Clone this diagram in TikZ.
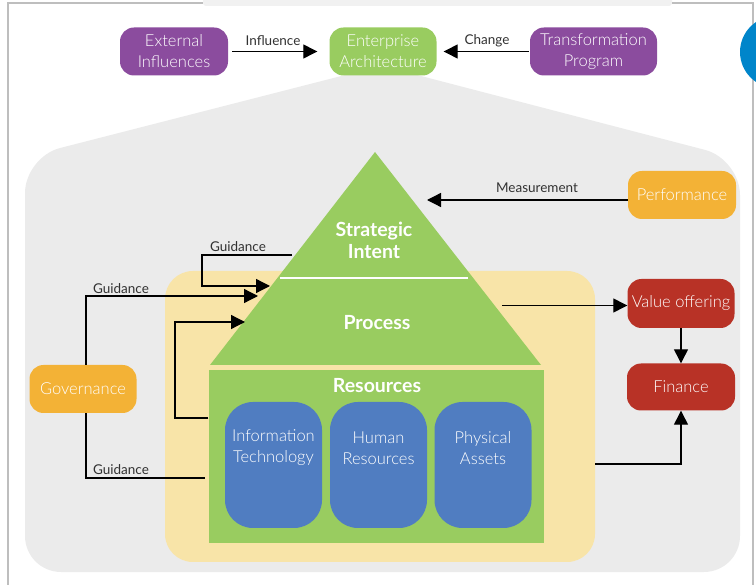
\documentclass[tikz,border=0pt]{standalone}
\usepackage{fontspec}
\setmainfont{Lato}[UprightFont=* Light, BoldFont=* Bold]
\newfontfamily\labelfont{Lato}
\usetikzlibrary{arrows.meta,positioning}

\definecolor{framegray}{RGB}{190,190,190}
\definecolor{housegray}{RGB}{235,235,235}
\definecolor{softyellow}{RGB}{248,228,168}
\definecolor{leafgreen}{RGB}{153,204,96}
\definecolor{plum}{RGB}{139,76,158}
\definecolor{amber}{RGB}{243,178,54}
\definecolor{brick}{RGB}{184,50,38}
\definecolor{resblue}{RGB}{80,125,193}
\definecolor{badgeblue}{RGB}{0,133,202}
\definecolor{labelgray}{RGB}{50,50,50}

\begin{document}
\begin{tikzpicture}[x=1pt,y=-1pt,
    box/.style={rounded corners=14pt,minimum height=48pt,inner sep=0pt,
        align=center,text=white,font=\fontsize{16.5}{21}\selectfont},
    lbl/.style={text=labelgray,font=\labelfont\fontsize{13.5}{15}\selectfont},
    arr/.style={line width=1.3pt,-{Triangle[length=14pt,width=14pt]}},
    resbox/.style={fill=resblue,rounded corners=28pt,minimum width=97pt,
        minimum height=126pt,inner sep=0pt},
    bigtext/.style={text=white,align=center,
        font=\bfseries\fontsize{19.5}{22}\selectfont}]
    \useasboundingbox (0,0) rectangle (756,585);
    % 外框
    \fill[housegray!70] (203,0) [rounded corners=3pt] -- (203,6) -- (672,6) [sharp corners] -- (672,0) -- cycle;
    \draw[framegray,line width=1.2pt] (8,585) -- (8,3) -- (203,3) (672,3) -- (753,3) -- (753,585);
    \fill[badgeblue] (776,52) circle (36);

    % 房屋底图
    \fill[housegray,rounded corners=36pt] (25,572) -- (25,157) -- (381.5,65.7)
        -- (740,159) -- (740,572) -- cycle;
    \fill[softyellow,rounded corners=28pt] (165,271) rectangle (595,562);

    % 顶部三个框
    \node[box,fill=plum,minimum width=108pt] (ext) at (174,51.5) {External\\Influences};
    \node[box,fill=leafgreen,minimum width=107pt] (ea) at (383,51.5) {Enterprise\\Architecture};
    \node[box,fill=plum,minimum width=127pt] (tp) at (593.5,51.5) {Transformation\\Program};
    \draw[arr,shorten <=4pt,shorten >=12pt] (ext.east) -- (ea.west);
    \draw[arr,shorten <=1pt,shorten >=7pt] (tp.west) -- (ea.east);
    \node[lbl] (influence) at (273,41) {Influence};
    \node[lbl] (change) at (487,41) {Change};

    % 金字塔
    \coordinate (apex) at (375,152);
    \coordinate (bl) at (210,365);
    \coordinate (br) at (541,365);
    \fill[leafgreen] (apex) -- (bl) -- (br) -- cycle;
    \draw[white,line width=2.5pt] (280,278) -- (468,278);
    \node[bigtext] (intent) at (374,240) {Strategic\\Intent};
    \node[bigtext] (process) at (377,323) {Process};

    % 资源
    \node[fill=leafgreen,minimum width=335pt,minimum height=173pt,inner sep=0pt]
        (resources) at (376,456.5) {};
    \node[bigtext] (restitle) at (377,386) {Resources};
    \node[resbox] (it) at (273.5,465) {};
    \node[resbox] (hr) at (378.5,465) {};
    \node[resbox] (pa) at (483,465) {};
    \node[box] (ittext) at (273.5,448) {Information\\Technology};
    \node[box] (hrtext) at (378.5,448) {Human\\Resources};
    \node[box] (patext) at (483,448) {Physical\\Assets};

    % 右侧三个框
    \node[box,fill=amber,minimum width=108pt] (perf) at (682,195) {Performance};
    \node[box,fill=brick,minimum width=107pt,minimum height=49pt] (value) at (681,303.5) {Value offering};
    \node[box,fill=brick,minimum width=108pt,minimum height=47pt] (finance) at (681,387) {Finance};
    \node[box,fill=amber,minimum width=107pt] (gov) at (83,389) {Governance};

    % 连线
    \coordinate (meas) at (427,200);
    \draw[arr] (perf.west |- meas) -- (meas);
    \node[lbl] (measlabel) at (537,188) {Measurement};

    \coordinate (g1from) at (292,255);
    \coordinate (g1to) at (270,286);
    \draw[arr] (g1from) -- (202,255) |- (g1to);
    \node[lbl] (g1label) at (238,247) {Guidance};

    \coordinate (g2to) at (258,296);
    \draw[arr] ([xshift=3pt]gov.north) |- (g2to);
    \node[lbl] (g2label) at (121,289) {Guidance};

    \coordinate (loopto) at (245,322);
    \draw[arr] ([yshift=38.5pt]resources.west) -- (175,418) |- (loopto);

    \coordinate (g3to) at (205,478);
    \draw[line width=1.3pt] ([xshift=3pt]gov.south) |- (g3to);
    \node[lbl] (g3label) at (121,470) {Guidance};

    \coordinate (procout) at (502,305.5);
    \draw[arr] (procout) -- (procout -| value.west);
    \draw[arr] (value.south) -- (finance.north);
    \coordinate (resout) at (595,464);
    \draw[arr] (resout) -| (finance.south);
\end{tikzpicture}
\end{document}
